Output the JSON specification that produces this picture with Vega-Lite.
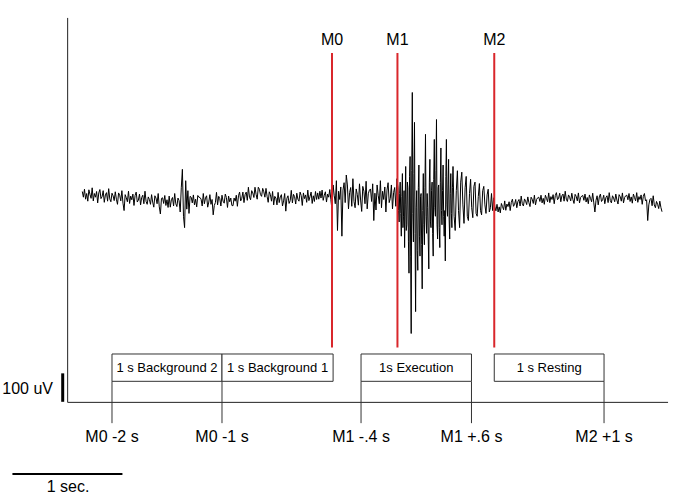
{
  "$schema": "https://vega.github.io/schema/vega-lite/v6.json",
  "width": 685,
  "height": 496,
  "autosize": {"type": "fit", "contains": "padding"},
  "padding": 0,
  "config": {"view": {"stroke": null}, "font": "Liberation Sans"},
  "datasets": {
    "trace": [
      {"t":-2270,"v":27},{"t":-2260,"v":7},{"t":-2250,"v":35},{"t":-2240,"v":0},{"t":-2230,"v":20},{"t":-2220,"v":-7},{"t":-2210,"v":33},{"t":-2200,"v":17},{"t":-2190,"v":3},{"t":-2180,"v":40},
      {"t":-2170,"v":-6},{"t":-2160,"v":20},{"t":-2150,"v":7},{"t":-2140,"v":27},{"t":-2130,"v":-13},{"t":-2120,"v":22},{"t":-2110,"v":34},{"t":-2100,"v":2},{"t":-2090,"v":9},{"t":-2080,"v":30},
      {"t":-2070,"v":-11},{"t":-2060,"v":15},{"t":-2050,"v":23},{"t":-2040,"v":-7},{"t":-2030,"v":37},{"t":-2020,"v":1},{"t":-2010,"v":-9},{"t":-2000,"v":21},{"t":-1990,"v":12},{"t":-1980,"v":-5},
      {"t":-1970,"v":26},{"t":-1960,"v":0},{"t":-1950,"v":-18},{"t":-1940,"v":22},{"t":-1930,"v":14},{"t":-1920,"v":-6},{"t":-1910,"v":30},{"t":-1900,"v":-14},{"t":-1890,"v":-40},{"t":-1880,"v":16},
      {"t":-1870,"v":5},{"t":-1860,"v":-9},{"t":-1850,"v":28},{"t":-1840,"v":-15},{"t":-1830,"v":11},{"t":-1820,"v":-2},{"t":-1810,"v":18},{"t":-1800,"v":-22},{"t":-1790,"v":13},{"t":-1780,"v":25},
      {"t":-1770,"v":-10},{"t":-1760,"v":-3},{"t":-1750,"v":18},{"t":-1740,"v":-20},{"t":-1730,"v":6},{"t":-1720,"v":14},{"t":-1710,"v":-16},{"t":-1700,"v":28},{"t":-1690,"v":-8},{"t":-1680,"v":-18},
      {"t":-1670,"v":8},{"t":-1660,"v":-1},{"t":-1650,"v":-18},{"t":-1640,"v":16},{"t":-1630,"v":-10},{"t":-1620,"v":-28},{"t":-1610,"v":12},{"t":-1600,"v":4},{"t":-1590,"v":-16},{"t":-1580,"v":20},
      {"t":-1570,"v":-27},{"t":-1560,"v":-52},{"t":-1550,"v":3},{"t":-1540,"v":5},{"t":-1530,"v":-15},{"t":-1520,"v":13},{"t":-1510,"v":-22},{"t":-1500,"v":-2},{"t":-1490,"v":-29},{"t":-1480,"v":11},
      {"t":-1470,"v":-28},{"t":-1460,"v":-2},{"t":-1450,"v":6},{"t":-1440,"v":-24},{"t":-1430,"v":20},{"t":-1420,"v":-16},{"t":-1410,"v":-26},{"t":-1400,"v":4},{"t":-1390,"v":-5},{"t":-1380,"v":-45},
      {"t":-1370,"v":40},{"t":-1360,"v":105},{"t":-1350,"v":-60},{"t":-1340,"v":-100},{"t":-1330,"v":65},{"t":-1320,"v":-35},{"t":-1310,"v":30},{"t":-1300,"v":-50},{"t":-1290,"v":10},{"t":-1280,"v":7},
      {"t":-1270,"v":-13},{"t":-1260,"v":15},{"t":-1250,"v":-20},{"t":-1240,"v":0},{"t":-1230,"v":-27},{"t":-1220,"v":13},{"t":-1210,"v":7},
      {"t":-1200,"v":6},{"t":-1190,"v":0},{"t":-1180,"v":-24},{"t":-1170,"v":20},{"t":-1160,"v":-16},{"t":-1150,"v":4},{"t":-1140,"v":12},{"t":-1130,"v":-28},{"t":-1120,"v":-10},{"t":-1110,"v":16},
      {"t":-1100,"v":-18},{"t":-1090,"v":-1},{"t":-1080,"v":-55},{"t":-1070,"v":-22},{"t":-1060,"v":-12},{"t":-1050,"v":24},{"t":-1040,"v":-20},{"t":-1030,"v":10},{"t":-1020,"v":2},{"t":-1010,"v":-24},
      {"t":-1000,"v":14},{"t":-990,"v":-7},{"t":-980,"v":-14},{"t":-970,"v":18},{"t":-960,"v":6},{"t":-950,"v":-29},{"t":-940,"v":11},{"t":-930,"v":-9},{"t":-920,"v":4},{"t":-910,"v":-22},
      {"t":-900,"v":-23},{"t":-890,"v":4},{"t":-880,"v":-7},{"t":-870,"v":14},{"t":-860,"v":-25},{"t":-850,"v":12},{"t":-840,"v":25},{"t":-830,"v":-6},{"t":-820,"v":3},{"t":-810,"v":25},
      {"t":-800,"v":-12},{"t":-790,"v":16},{"t":-780,"v":25},{"t":-770,"v":-4},{"t":-760,"v":42},{"t":-750,"v":7},{"t":-740,"v":-2},{"t":-730,"v":30},{"t":-720,"v":22},{"t":-710,"v":6},
      {"t":-700,"v":42},{"t":-690,"v":17},{"t":-680,"v":0},{"t":-670,"v":42},{"t":-660,"v":35},{"t":-650,"v":16},
      {"t":-640,"v":10},{"t":-630,"v":38},{"t":-620,"v":26},{"t":-610,"v":7},{"t":-600,"v":38},{"t":-590,"v":10},{"t":-580,"v":-11},{"t":-570,"v":26},{"t":-560,"v":16},{"t":-550,"v":-7},{"t":-540,"v":27},{"t":-530,"v":-20},
      {"t":-520,"v":10},{"t":-510,"v":4},{"t":-500,"v":-20},{"t":-490,"v":24},{"t":-480,"v":-12},{"t":-470,"v":8},{"t":-460,"v":16},{"t":-450,"v":-24},{"t":-440,"v":-6},{"t":-430,"v":20},
      {"t":-420,"v":-42},{"t":-410,"v":3},{"t":-400,"v":12},{"t":-390,"v":-15},{"t":-380,"v":-5},{"t":-370,"v":31},{"t":-360,"v":-13},{"t":-350,"v":17},{"t":-340,"v":9},{"t":-330,"v":-17},
      {"t":-320,"v":21},{"t":-310,"v":0},{"t":-300,"v":-7},{"t":-290,"v":25},{"t":-280,"v":13},{"t":-270,"v":-22},{"t":-260,"v":22},{"t":-250,"v":2},{"t":-240,"v":15},{"t":-230,"v":-11},
      {"t":-220,"v":32},{"t":-210,"v":-5},{"t":-200,"v":9},{"t":-190,"v":25},{"t":-180,"v":-15},{"t":-170,"v":12},{"t":-160,"v":-8},{"t":-150,"v":27},{"t":-140,"v":-1},{"t":-130,"v":22},
      {"t":-120,"v":0},{"t":-110,"v":28},{"t":-100,"v":4},{"t":-90,"v":32},{"t":-80,"v":-4},{"t":-70,"v":14},{"t":-60,"v":26},{"t":-50,"v":-10},{"t":-40,"v":18},{"t":-30,"v":7},{"t":-20,"v":34},{"t":-10,"v":-2},
      {"t":0,"v":-38},{"t":10,"v":50},{"t":20,"v":14},{"t":30,"v":-16},{"t":40,"v":65},{"t":50,"v":-110},{"t":60,"v":28},{"t":70,"v":-1},{"t":80,"v":43},{"t":90,"v":-130},
      {"t":100,"v":32},{"t":110,"v":58},{"t":120,"v":-12},{"t":130,"v":85},{"t":140,"v":50},{"t":150,"v":-34},{"t":160,"v":23},{"t":170,"v":41},{"t":180,"v":-25},{"t":190,"v":72},
      {"t":200,"v":-8},{"t":210,"v":-30},{"t":220,"v":36},{"t":230,"v":17},{"t":240,"v":-21},{"t":250,"v":54},{"t":260,"v":-3},{"t":270,"v":-43},{"t":280,"v":45},{"t":290,"v":28},
      {"t":300,"v":-16},{"t":310,"v":63},{"t":320,"v":-34},{"t":330,"v":19},{"t":340,"v":32},{"t":350,"v":36},{"t":360,"v":-8},{"t":370,"v":54},{"t":380,"v":-75},{"t":390,"v":21},
      {"t":400,"v":-38},{"t":410,"v":50},{"t":420,"v":14},{"t":430,"v":-16},{"t":440,"v":65},{"t":450,"v":-30},{"t":460,"v":28},{"t":470,"v":-1},{"t":480,"v":43},{"t":490,"v":-45},
      {"t":500,"v":32},{"t":510,"v":58},{"t":520,"v":-12},{"t":530,"v":3},{"t":540,"v":50},{"t":550,"v":-34},{"t":560,"v":23},{"t":570,"v":41},{"t":580,"v":-25},{"t":590,"v":72},
      {"t":600,"v":40},{"t":605,"v":-40},{"t":610,"v":-80},{"t":615,"v":20},{"t":620,"v":60},{"t":625,"v":-50},{"t":630,"v":-130},{"t":635,"v":10},{"t":640,"v":90},{"t":645,"v":-100},
      {"t":650,"v":-60},{"t":655,"v":30},{"t":660,"v":-170},{"t":665,"v":-20},{"t":670,"v":115},{"t":675,"v":-110},{"t":680,"v":-90},{"t":685,"v":60},{"t":690,"v":40},{"t":695,"v":-150},
      {"t":700,"v":-260},{"t":705,"v":80},{"t":710,"v":150},{"t":715,"v":-200},{"t":720,"v":-472},{"t":725,"v":100},{"t":730,"v":375},{"t":735,"v":-50},{"t":740,"v":-150},{"t":745,"v":90},
      {"t":750,"v":270},{"t":755,"v":-120},{"t":760,"v":-395},{"t":765,"v":-30},{"t":770,"v":30},{"t":775,"v":-180},{"t":780,"v":-250},{"t":785,"v":40},{"t":790,"v":120},{"t":795,"v":-130},
      {"t":800,"v":-200},{"t":805,"v":10},{"t":810,"v":20},{"t":815,"v":-160},{"t":820,"v":-315},{"t":825,"v":-40},{"t":830,"v":90},{"t":835,"v":-90},{"t":840,"v":-160},{"t":845,"v":40},
      {"t":850,"v":228},{"t":855,"v":-60},{"t":860,"v":-120},{"t":865,"v":20},{"t":870,"v":-30},{"t":875,"v":-140},{"t":880,"v":-245},{"t":885,"v":60},{"t":890,"v":140},{"t":895,"v":-80},
      {"t":900,"v":-100},{"t":905,"v":30},{"t":910,"v":60},{"t":915,"v":-120},{"t":920,"v":-200},{"t":925,"v":70},{"t":930,"v":210},{"t":935,"v":-30},{"t":940,"v":-60},{"t":945,"v":100},
      {"t":950,"v":280},{"t":955,"v":-90},{"t":960,"v":-140},{"t":965,"v":40},{"t":970,"v":50},{"t":975,"v":-100},{"t":980,"v":-170},{"t":985,"v":60},{"t":990,"v":180},{"t":995,"v":-40},
      {"t":1000,"v":-90},{"t":1005,"v":30},{"t":1010,"v":120},{"t":1015,"v":-60},{"t":1020,"v":-130},{"t":1025,"v":-40},{"t":1030,"v":-217},{"t":1035,"v":80},{"t":1040,"v":210},{"t":1045,"v":-20},
      {"t":1050,"v":-60},{"t":1055,"v":50},{"t":1060,"v":140},{"t":1065,"v":-70},{"t":1070,"v":-140},{"t":1075,"v":20},{"t":1080,"v":90},{"t":1085,"v":-50},{"t":1090,"v":-100},{"t":1095,"v":40},
      {"t":1100,"v":115},{"t":1110,"v":-60},{"t":1120,"v":-110},{"t":1130,"v":30},{"t":1140,"v":100},{"t":1150,"v":-40},{"t":1160,"v":-100},{"t":1170,"v":60},{"t":1180,"v":95},{"t":1190,"v":-20},
      {"t":1200,"v":-85},{"t":1210,"v":40},{"t":1220,"v":80},{"t":1230,"v":-60},{"t":1240,"v":-75},{"t":1250,"v":20},{"t":1260,"v":70},{"t":1270,"v":-30},{"t":1280,"v":-65},{"t":1290,"v":45},
      {"t":1300,"v":60},{"t":1310,"v":-50},{"t":1320,"v":-60},{"t":1330,"v":10},{"t":1340,"v":55},{"t":1350,"v":-40},{"t":1360,"v":-55},{"t":1370,"v":30},{"t":1380,"v":45},{"t":1390,"v":-20},
      {"t":1400,"v":-50},{"t":1410,"v":15},{"t":1420,"v":35},{"t":1430,"v":-45},{"t":1440,"v":-30},{"t":1450,"v":20},{"t":1460,"v":-40},{"t":1470,"v":5},
      {"t":1480,"v":-26},{"t":1490,"v":-41},{"t":1500,"v":-18},{"t":1510,"v":-45},{"t":1520,"v":-27},{"t":1530,"v":-48},{"t":1540,"v":-15},{"t":1550,"v":-26},{"t":1560,"v":-37},{"t":1570,"v":-6},
      {"t":1580,"v":-39},{"t":1590,"v":-17},{"t":1600,"v":-26},{"t":1610,"v":-9},{"t":1620,"v":-40},{"t":1630,"v":-11},{"t":1640,"v":0},{"t":1650,"v":-25},{"t":1660,"v":-18},{"t":1670,"v":-1},
      {"t":1680,"v":-30},{"t":1690,"v":-8},{"t":1700,"v":-1},{"t":1710,"v":-24},{"t":1720,"v":11},{"t":1730,"v":-16},{"t":1740,"v":-24},{"t":1750,"v":1},{"t":1760,"v":-7},{"t":1770,"v":-19},
      {"t":1780,"v":8},{"t":1790,"v":-12},{"t":1800,"v":-26},{"t":1810,"v":7},{"t":1820,"v":0},{"t":1830,"v":-15},{"t":1840,"v":14},{"t":1850,"v":-20},{"t":1860,"v":-1},{"t":1870,"v":5},
      {"t":1880,"v":7},{"t":1890,"v":-8},{"t":1900,"v":14},{"t":1910,"v":-13},{"t":1920,"v":3},{"t":1930,"v":-18},{"t":1940,"v":14},{"t":1950,"v":3},{"t":1960,"v":-9},{"t":1970,"v":22},
      {"t":1980,"v":-12},{"t":1990,"v":9},{"t":2000,"v":-1},{"t":2010,"v":16},{"t":2020,"v":-16},{"t":2030,"v":13},{"t":2040,"v":23},{"t":2050,"v":-2},{"t":2060,"v":4},{"t":2070,"v":21},
      {"t":2080,"v":-9},{"t":2090,"v":12},{"t":2100,"v":18},{"t":2110,"v":-7},{"t":2120,"v":28},{"t":2130,"v":0},{"t":2140,"v":-8},{"t":2150,"v":15},{"t":2160,"v":7},{"t":2170,"v":-6},
      {"t":2180,"v":21},{"t":2190,"v":-1},{"t":2200,"v":-15},{"t":2210,"v":17},{"t":2220,"v":10},{"t":2230,"v":-6},{"t":2240,"v":22},{"t":2250,"v":-13},{"t":2260,"v":6},{"t":2270,"v":11},
      {"t":2280,"v":13},{"t":2290,"v":-4},{"t":2300,"v":18},{"t":2310,"v":-10},{"t":2320,"v":6},{"t":2330,"v":-16},{"t":2340,"v":15},{"t":2350,"v":3},{"t":2360,"v":-9},{"t":2370,"v":21},
      {"t":2380,"v":-13},{"t":2390,"v":-45},{"t":2400,"v":-4},{"t":2410,"v":12},{"t":2420,"v":-20},{"t":2430,"v":8},{"t":2440,"v":18},{"t":2450,"v":-8},{"t":2460,"v":-2},{"t":2470,"v":14},
      {"t":2480,"v":-16},{"t":2490,"v":6},{"t":2500,"v":12},{"t":2510,"v":-12},{"t":2520,"v":23},{"t":2530,"v":-5},{"t":2540,"v":-13},{"t":2550,"v":12},{"t":2560,"v":4},{"t":2570,"v":-9},
      {"t":2580,"v":18},{"t":2590,"v":-3},{"t":2600,"v":-17},{"t":2610,"v":16},{"t":2620,"v":9},{"t":2630,"v":-7},{"t":2640,"v":22},{"t":2650,"v":-13},{"t":2660,"v":6},{"t":2670,"v":12},
      {"t":2680,"v":14},{"t":2690,"v":-2},{"t":2700,"v":20},{"t":2710,"v":-8},{"t":2720,"v":8},{"t":2730,"v":-14},{"t":2740,"v":18},{"t":2750,"v":6},{"t":2760,"v":-6},{"t":2770,"v":23},
      {"t":2780,"v":-11},{"t":2790,"v":9},{"t":2800,"v":-1},{"t":2810,"v":15},{"t":2820,"v":-18},{"t":2830,"v":10},{"t":2840,"v":20},{"t":2850,"v":-6},{"t":2860,"v":-2},{"t":2870,"v":-75},
      {"t":2880,"v":-20},{"t":2890,"v":-1},{"t":2900,"v":3},{"t":2910,"v":-23},{"t":2920,"v":12},{"t":2930,"v":-20},{"t":2940,"v":-30},{"t":2950,"v":-8},{"t":2960,"v":-18},{"t":2970,"v":-33},
      {"t":2980,"v":-7},{"t":2990,"v":-29},{"t":3000,"v":-44}
    ],
    "boxes": [
      {"label": "1 s Background 2", "t1": -2000, "t2": -1000, "tc": -1500},
      {"label": "1 s Background 1", "t1": -1000, "t2": 10, "tc": -495},
      {"label": "1s Execution", "t1": 264, "t2": 1268, "tc": 766},
      {"label": "1 s Resting", "t1": 1475, "t2": 2473, "tc": 1974}
    ],
    "ticks": [
      {"label": "M0 -2 s", "t": -2000},
      {"label": "M0 -1 s", "t": -1000},
      {"label": "M1 -.4 s", "t": 264},
      {"label": "M1 +.6 s", "t": 1268},
      {"label": "M2 +1 s", "t": 2473}
    ],
    "markers": [
      {"label": "M0", "t": 0},
      {"label": "M1", "t": 595},
      {"label": "M2", "t": 1475}
    ],
    "frame": [
      {"t1": -2403, "t2": -2403, "v1": 637, "v2": -714},
      {"t1": -2403, "t2": 3055, "v1": -714, "v2": -714}
    ],
    "scalebars": [
      {"label": "100 uV", "t1": -2448, "t2": -2448, "v1": -612, "v2": -712, "tl": -2536, "vl": -668},
      {"label": "1 sec.", "t1": -2905, "t2": -1905, "v1": -966, "v2": -966, "tl": -2400, "vl": -1012}
    ]
  },
  "layer": [
    {
      "data": {"name": "trace"},
      "mark": {"type": "line", "color": "#000000", "strokeWidth": 1, "interpolate": "linear"},
      "encoding": {
        "x": {"field": "t", "type": "quantitative", "scale": {"domain": [-3018, 3209], "nice": false, "zero": false}, "axis": null},
        "y": {"field": "v", "type": "quantitative", "scale": {"domain": [-1036, 700], "nice": false, "zero": false}, "axis": null}
      }
    },
    {
      "data": {"name": "markers"},
      "mark": {"type": "rule", "color": "#d9262b", "strokeWidth": 2},
      "encoding": {
        "x": {"field": "t", "type": "quantitative", "scale": {"domain": [-3018, 3209], "nice": false, "zero": false}, "axis": null},
        "y": {"datum": 514, "type": "quantitative", "scale": {"domain": [-1036, 700], "nice": false, "zero": false}, "axis": null},
        "y2": {"datum": -521}
      }
    },
    {
      "data": {"name": "markers"},
      "mark": {"type": "text", "fontSize": 16, "baseline": "middle", "align": "center", "color": "#000000"},
      "encoding": {
        "x": {"field": "t", "type": "quantitative"},
        "y": {"datum": 560, "type": "quantitative"},
        "text": {"field": "label"}
      }
    },
    {
      "data": {"name": "frame"},
      "mark": {"type": "rule", "color": "#222222", "strokeWidth": 1},
      "encoding": {
        "x": {"field": "t1", "type": "quantitative"},
        "x2": {"field": "t2"},
        "y": {"field": "v1", "type": "quantitative"},
        "y2": {"field": "v2"}
      }
    },
    {
      "data": {"name": "ticks"},
      "mark": {"type": "rule", "color": "#333333", "strokeWidth": 1},
      "encoding": {
        "x": {"field": "t", "type": "quantitative"},
        "y": {"datum": -640, "type": "quantitative"},
        "y2": {"datum": -787}
      }
    },
    {
      "data": {"name": "ticks"},
      "mark": {"type": "text", "fontSize": 16, "baseline": "middle", "align": "center", "color": "#000000"},
      "encoding": {
        "x": {"field": "t", "type": "quantitative"},
        "y": {"datum": -836, "type": "quantitative"},
        "text": {"field": "label"}
      }
    },
    {
      "data": {"name": "boxes"},
      "mark": {"type": "rect", "fill": "#ffffff", "stroke": "#333333", "strokeWidth": 1},
      "encoding": {
        "x": {"field": "t1", "type": "quantitative"},
        "x2": {"field": "t2"},
        "y": {"datum": -544, "type": "quantitative"},
        "y2": {"datum": -640}
      }
    },
    {
      "data": {"name": "boxes"},
      "mark": {"type": "text", "fontSize": 13, "baseline": "middle", "align": "center", "color": "#000000"},
      "encoding": {
        "x": {"field": "tc", "type": "quantitative"},
        "y": {"datum": -593, "type": "quantitative"},
        "text": {"field": "label"}
      }
    },
    {
      "data": {"name": "scalebars"},
      "transform": [{"filter": "datum.label === '100 uV'"}],
      "mark": {"type": "rule", "color": "#000000", "strokeWidth": 3},
      "encoding": {
        "x": {"field": "t1", "type": "quantitative"},
        "x2": {"field": "t2"},
        "y": {"field": "v1", "type": "quantitative"},
        "y2": {"field": "v2"}
      }
    },
    {
      "data": {"name": "scalebars"},
      "transform": [{"filter": "datum.label === '1 sec.'"}],
      "mark": {"type": "rule", "color": "#000000", "strokeWidth": 2},
      "encoding": {
        "x": {"field": "t1", "type": "quantitative"},
        "x2": {"field": "t2"},
        "y": {"field": "v1", "type": "quantitative"},
        "y2": {"field": "v2"}
      }
    },
    {
      "data": {"name": "scalebars"},
      "transform": [{"filter": "datum.label === '100 uV'"}],
      "mark": {"type": "text", "fontSize": 16, "baseline": "middle", "align": "right", "color": "#000000"},
      "encoding": {
        "x": {"field": "tl", "type": "quantitative"},
        "y": {"field": "vl", "type": "quantitative"},
        "text": {"field": "label"}
      }
    },
    {
      "data": {"name": "scalebars"},
      "transform": [{"filter": "datum.label === '1 sec.'"}],
      "mark": {"type": "text", "fontSize": 16, "baseline": "middle", "align": "center", "color": "#000000"},
      "encoding": {
        "x": {"field": "tl", "type": "quantitative"},
        "y": {"field": "vl", "type": "quantitative"},
        "text": {"field": "label"}
      }
    }
  ]
}
